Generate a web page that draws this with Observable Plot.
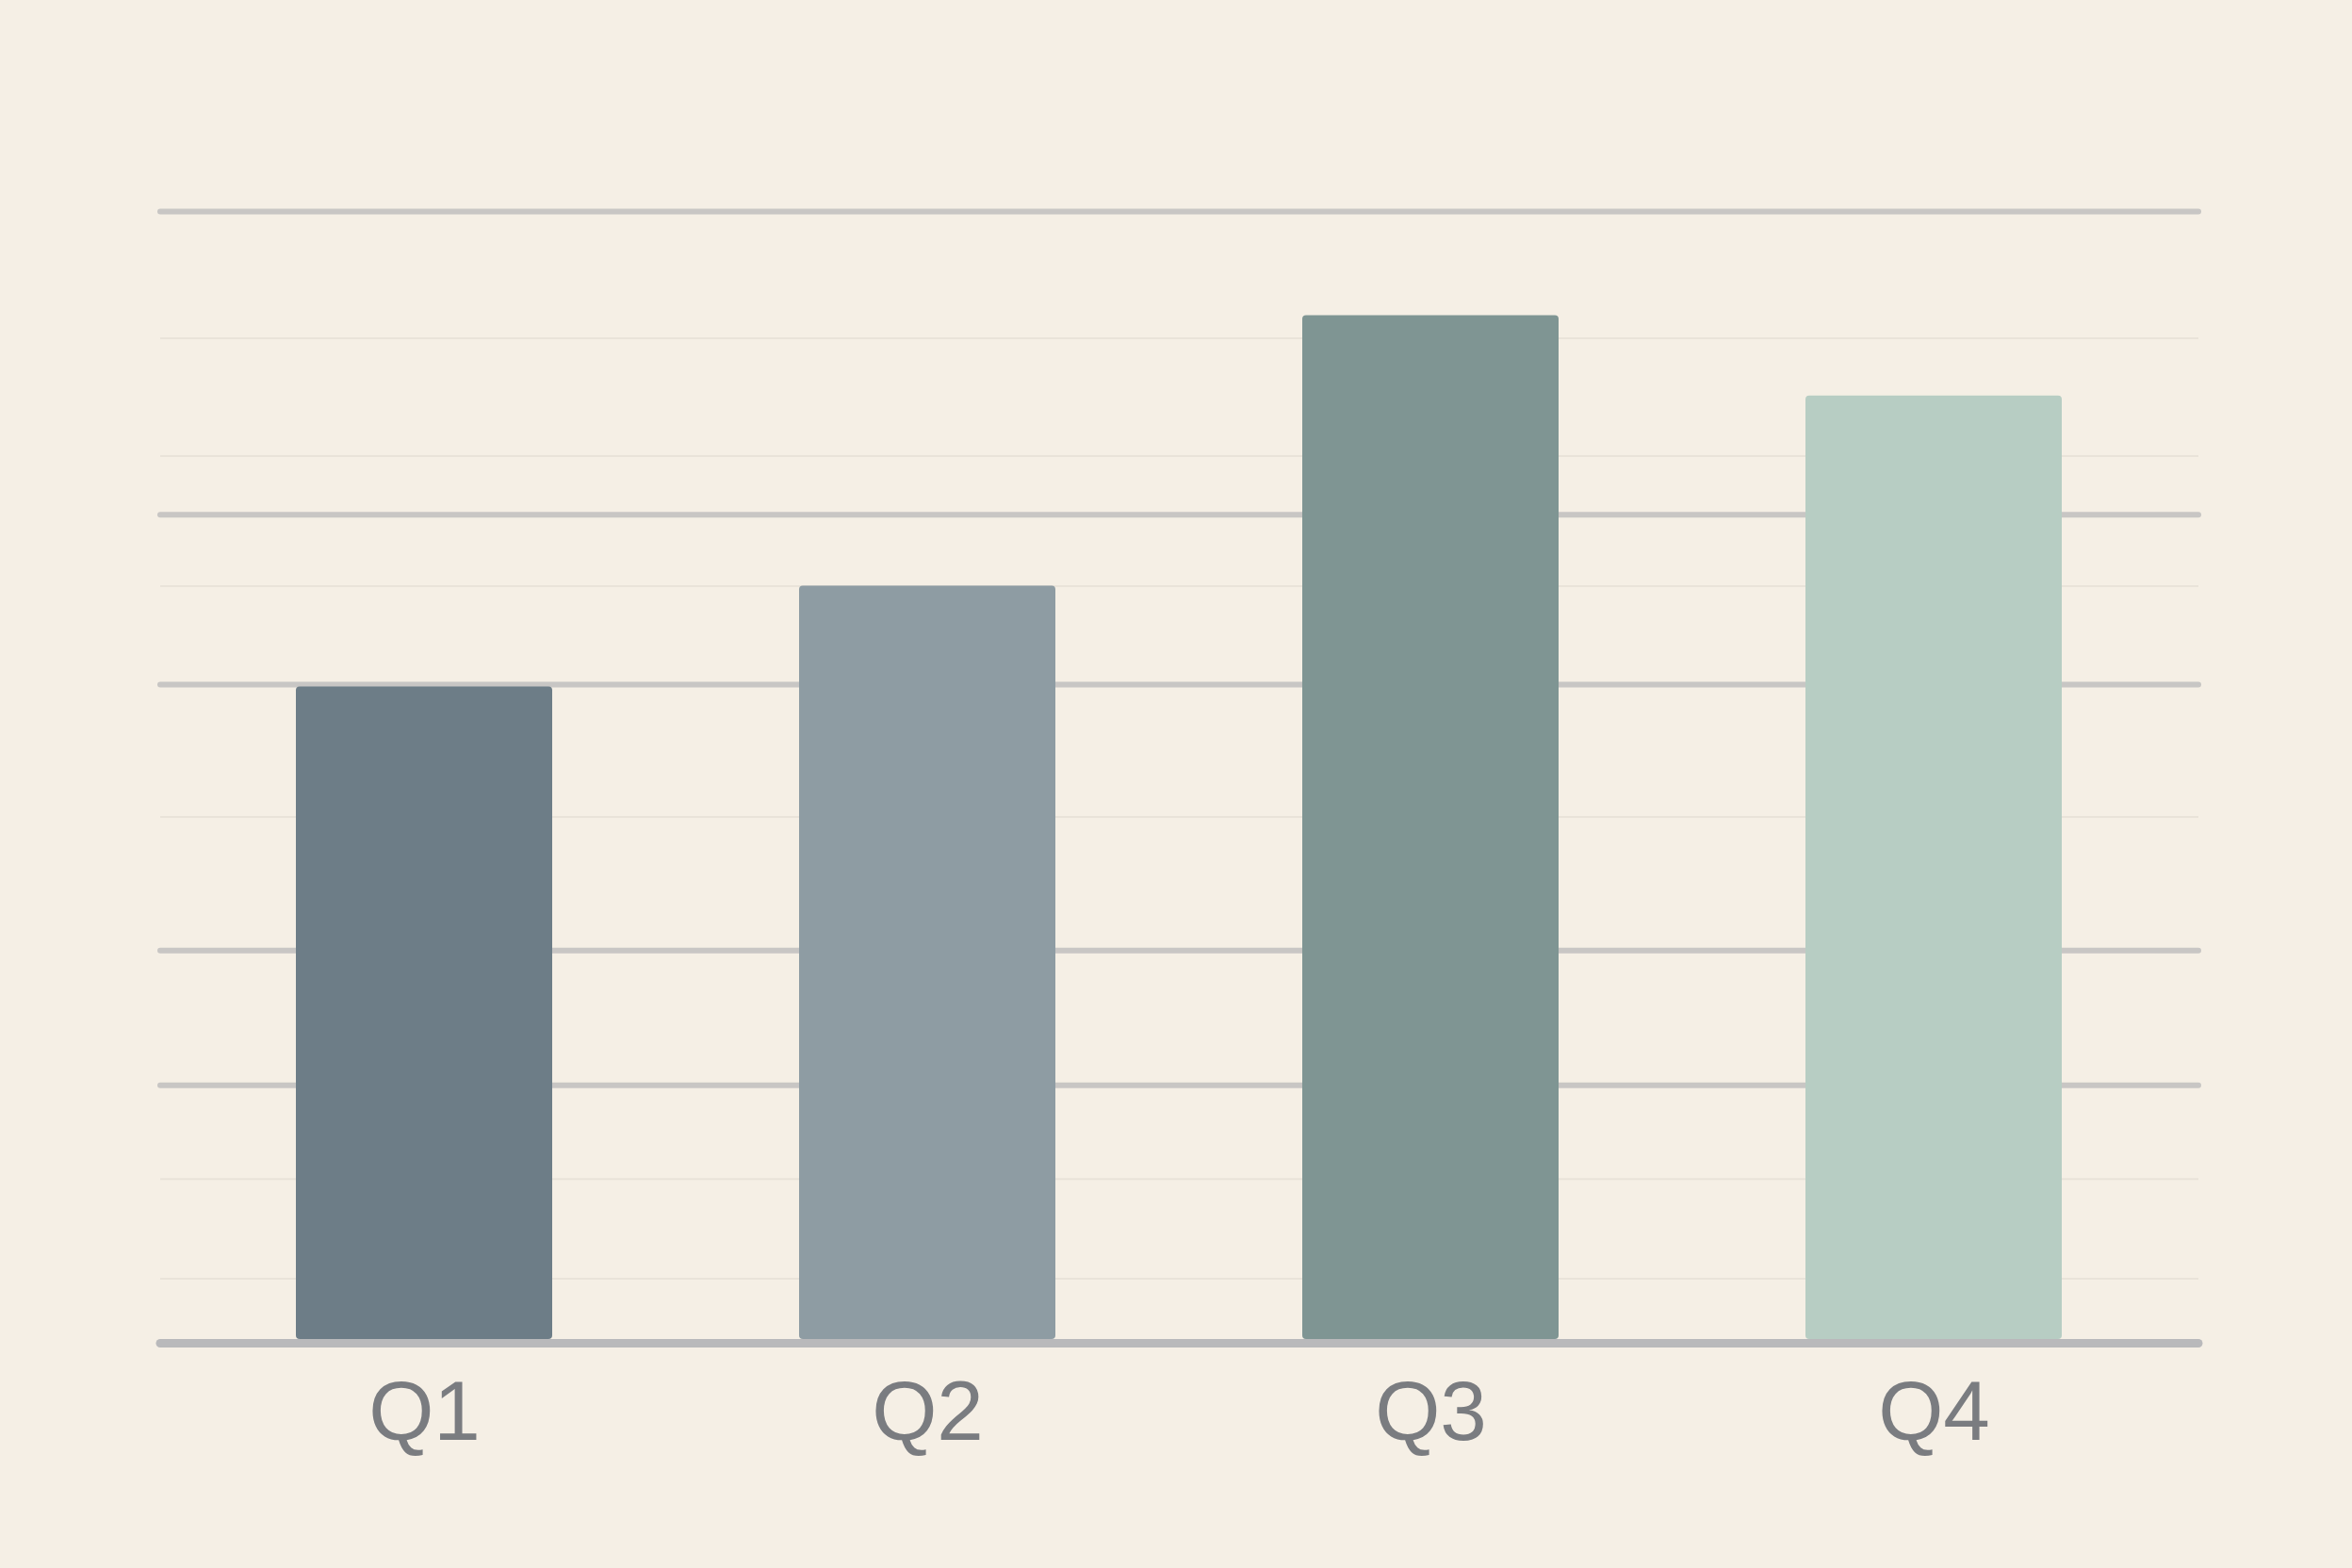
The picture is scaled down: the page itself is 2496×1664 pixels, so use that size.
<!DOCTYPE html>
<html>
<head>
<meta charset="utf-8">
<script src="https://cdn.jsdelivr.net/npm/d3@7"></script>
<script src="https://cdn.jsdelivr.net/npm/@observablehq/plot@0.6"></script>
<style>
  html, body { margin: 0; padding: 0; background: #f5efe5; overflow: hidden; }
  #chart svg { display: block; }
  #chart svg text { font-family: "Liberation Sans", Arimo, Arial, Helvetica, Roboto, sans-serif !important; }
</style>
</head>
<body>
<div id="chart"></div>
<script>
// quarters and their values (0-100 scale)
var quarters = ["Q1", "Q2", "Q3", "Q4"]
var values = [58, 66.9, 90.8, 83.7]
var barColors = ["#6d7d87", "#8e9ca3", "#7f9593", "#b7cdc3"]

// gridline positions, on the same scale
var mainGrid = [100, 73.2, 58.2, 34.7, 22.8]
var faintGrid = [88.8, 78.4, 66.9, 46.5, 14.5, 5.7]

var data = quarters.map((q, i) => ({quarter: q, value: values[i]}))

var chart = Plot.plot({
  width: 2496,
  height: 1664,
  marginLeft: 170,
  marginRight: 163,
  marginTop: 224,
  marginBottom: 239,
  style: {
    background: "#f5efe5",
    fontFamily: "Liberation Sans, Arimo, Arial, Roboto, sans-serif",
    fontSize: 89,
    color: "#7a7c80"
  },
  x: {
    domain: quarters,
    paddingInner: 0.49,
    paddingOuter: 0.27,
    label: null
  },
  y: {
    domain: [0, 100],
    axis: null
  },
  color: {
    domain: quarters,
    range: barColors
  },
  marks: [
    Plot.ruleY(faintGrid, {stroke: "#e9e3d9", strokeWidth: 2}),
    Plot.ruleY(mainGrid, {stroke: "#c8c6c4", strokeWidth: 6, strokeLinecap: "round"}),
    Plot.barY(data, {x: "quarter", y: "value", fill: "quarter", rx: 4, insetBottom: 4}),
    Plot.ruleY([0], {stroke: "#b9b9bb", strokeWidth: 9, strokeLinecap: "round"}),
    Plot.axisX({tickSize: 0, tickPadding: 39, fontSize: 89, fill: "#7a7c80", label: null})
  ]
})

d3.select("#chart").append(() => chart)
</script>
</body>
</html>
